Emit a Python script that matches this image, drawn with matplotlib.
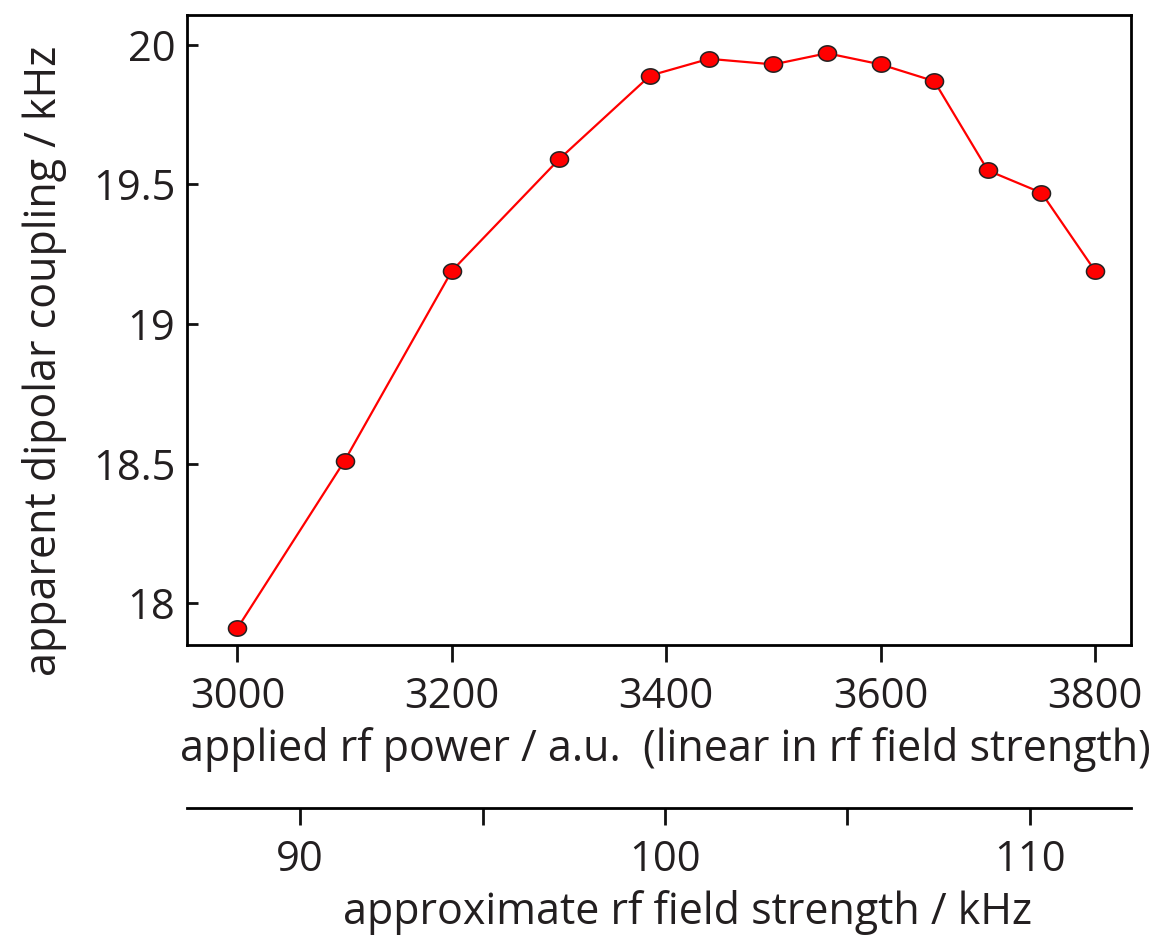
import matplotlib
matplotlib.use("Agg")
import matplotlib.pyplot as plt
import numpy as np
from matplotlib.path import Path

plt.rcParams['font.family'] = ['Open Sans', 'DejaVu Sans']

rf_power = [3000, 3100, 3200, 3300, 3385, 3440, 3500, 3550, 3600, 3650, 3700, 3750, 3800]
coupling = [17.91, 18.51, 19.19, 19.59, 19.89, 19.95, 19.93, 19.97, 19.93, 19.87, 19.55, 19.47, 19.19]
x_ticks = [3000, 3200, 3400, 3600, 3800]
y_ticks = [18, 18.5, 19, 19.5, 20]
y_ticklabels = ["18", "18.5", "19", "19.5", "20"]
field_ticks = [90, 95, 100, 105, 110]
field_ticklabels = ["90", "", "100", "", "110"]

W, H = 1152, 935
fig = plt.figure(figsize=(W / 100, H / 100), dpi=100)

def fx(px):
    return px / W

def fy(py):
    return 1 - py / H

TXT = '#231f20'
TICK_FS = 30
LAB_FS = 31

ax = fig.add_axes([fx(187), fy(645), fx(1131) - fx(187), fy(15) - fy(645)])

# elliptical marker
t = np.linspace(0, 2 * np.pi, 60)
ell = Path(np.column_stack([np.cos(t), 0.85 * np.sin(t)]), closed=True)

ax.plot(rf_power, coupling, color='#ff0000', lw=1.6, marker=ell, ms=13,
        markerfacecolor='#ff0000', markeredgecolor='#222222', markeredgewidth=1.1)

ax.set_xlim(2953, 3833.5)
ax.set_ylim(17.85, 20.107)
ax.set_xticks(x_ticks)
ax.set_yticks(y_ticks)
ax.set_yticklabels(y_ticklabels)
for s in ax.spines.values():
    s.set_linewidth(2.0)
ax.tick_params(axis='x', direction='out', length=12.5, width=2.0, labelsize=TICK_FS, pad=10, colors='#111111', labelcolor=TXT)
ax.tick_params(axis='y', direction='in', length=8, width=2.0, labelsize=TICK_FS, pad=8.5, colors='#111111', labelcolor=TXT)
ax.set_xlabel("applied rf power / a.u.  (linear in rf field strength)", fontsize=LAB_FS, labelpad=6, color=TXT)
ax.set_ylabel("apparent dipolar coupling / kHz", fontsize=LAB_FS, color=TXT)
ax.yaxis.set_label_coords(-0.127, 0.451)
ax.xaxis.label.set_x(0.507)

# secondary field-strength axis
ax2 = fig.add_axes([fx(187), fy(808), fx(1131) - fx(187), 0.0001])
ax2.set_xlim(86.9, 112.77)
for k in ['top', 'left', 'right']:
    ax2.spines[k].set_visible(False)
ax2.spines['bottom'].set_linewidth(2.0)
ax2.set_yticks([])
ax2.set_xticks(field_ticks)
ax2.set_xticklabels(field_ticklabels)
ax2.tick_params(axis='x', direction='out', length=12.5, width=2.0, labelsize=TICK_FS, pad=10, colors='#111111', labelcolor=TXT)
ax2.set_xlabel("approximate rf field strength / kHz", fontsize=LAB_FS, labelpad=6, color=TXT)
ax2.xaxis.label.set_x(0.530)
ax2.patch.set_visible(False)

fig.savefig("out.png", dpi=100)
